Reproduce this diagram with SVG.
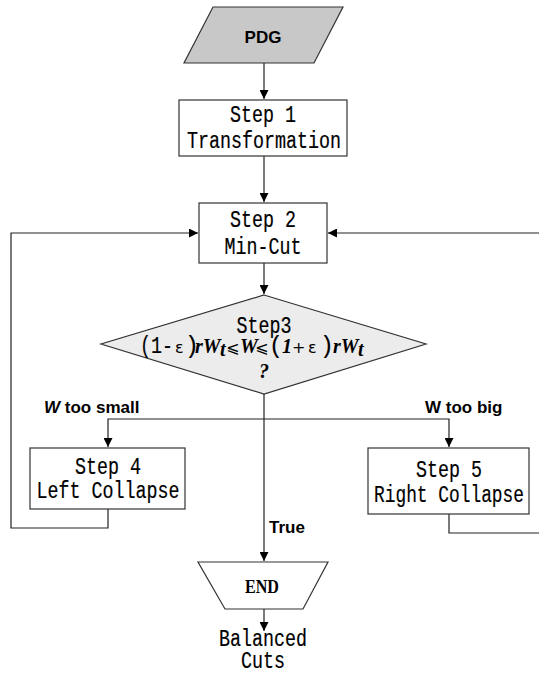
<svg xmlns="http://www.w3.org/2000/svg" width="539" height="677" viewBox="0 0 539 677">
  <style>
    .shape { stroke: #333; stroke-width: 1.2; }
    .box { fill: #fff; }
    .io { fill: #c8c8c8; }
    .dec { fill: #ececec; }
    .wire { fill: none; stroke: #222; stroke-width: 1.2; }
    .mono { font-family: "Liberation Mono", "DejaVu Sans Mono", monospace; font-size: 23px; fill: #000; stroke: #000; stroke-width: 0.2; }
    .lbl { font-family: "Liberation Sans", Arial, sans-serif; font-weight: bold; font-size: 17px; fill: #000; }
    .mi { font-family: "Liberation Serif", "Times New Roman", serif; font-style: italic; font-weight: bold; font-size: 20px; }
    .op { font-family: "DejaVu Sans", sans-serif; font-size: 16px; }
  </style>
  <defs>
    <marker id="arrow" viewBox="0 0 10 10" refX="10" refY="5" markerWidth="9" markerHeight="9" markerUnits="userSpaceOnUse" orient="auto">
      <path d="M0,0 L10,5 L0,10 z" fill="#000"/>
    </marker>
  </defs>

  <!-- connectors -->
  <g id="connectors" class="wire">
    <path d="M264,63 V99" marker-end="url(#arrow)"/>
    <path d="M264,156 V202" marker-end="url(#arrow)"/>
    <path d="M264,263 V294" marker-end="url(#arrow)"/>
    <path d="M264,394 V561" marker-end="url(#arrow)"/>
    <path d="M108,430 V419 H449 V430" />
    <path d="M108,430 V447" marker-end="url(#arrow)"/>
    <path d="M449,430 V447" marker-end="url(#arrow)"/>
    <path d="M108,509 V528 H11 V233 H198" marker-end="url(#arrow)"/>
    <path d="M449,514 V533 H545 V233 H328" marker-end="url(#arrow)"/>
    <path d="M264,609 V631" marker-end="url(#arrow)"/>
  </g>

  <!-- input data -->
  <g id="pdg">
    <polygon class="shape io" points="213,7 343,7 314,63 184,63"/>
    <text class="lbl" x="263" y="43" text-anchor="middle">PDG</text>
  </g>

  <g id="step1">
    <rect class="shape box" x="179" y="100" width="168" height="56"/>
    <text class="mono" x="263" y="122" text-anchor="middle" textLength="66" lengthAdjust="spacingAndGlyphs">Step 1</text>
    <text class="mono" x="264" y="148" text-anchor="middle" textLength="154" lengthAdjust="spacingAndGlyphs">Transformation</text>
  </g>

  <g id="step2">
    <rect class="shape box" x="199" y="203" width="128" height="60"/>
    <text class="mono" x="263" y="227" text-anchor="middle" textLength="66" lengthAdjust="spacingAndGlyphs">Step 2</text>
    <text class="mono" x="263" y="254" text-anchor="middle" textLength="77" lengthAdjust="spacingAndGlyphs">Min-Cut</text>
  </g>

  <g id="step3">
    <polygon class="shape dec" points="264,295 426,344 264,394 101,344"/>
    <text class="mono" x="264" y="333" text-anchor="middle" textLength="55" lengthAdjust="spacingAndGlyphs">Step3</text>
    <text y="353">
      <tspan class="mono" x="140" font-size="20" textLength="33" lengthAdjust="spacingAndGlyphs">(1-</tspan>
      <tspan class="op" x="175">ε</tspan>
      <tspan class="mono" x="185" font-size="20">)</tspan>
      <tspan class="mi" x="195">rW</tspan>
      <tspan class="mi" x="220" dy="3" font-size="13">t</tspan>
      <tspan class="op" x="226" dy="-3">⩽</tspan>
      <tspan class="mi" x="240">W</tspan>
      <tspan class="op" x="255">⩽</tspan>
      <tspan class="mono" x="269" font-size="20">(</tspan>
      <tspan class="mi" x="282" font-weight="normal">1</tspan>
      <tspan class="op" x="292">+</tspan>
      <tspan class="op" x="308">ε</tspan>
      <tspan class="mono" x="320" font-size="20">)</tspan>
      <tspan class="mi" x="333">rW</tspan>
      <tspan class="mi" x="358" dy="3" font-size="13">t</tspan>
    </text>
    <text class="mi" x="264" y="378" text-anchor="middle" font-weight="normal">?</text>
  </g>

  <g id="step4">
    <rect class="shape box" x="30" y="448" width="155" height="61"/>
    <text class="mono" x="108" y="474" text-anchor="middle" textLength="66" lengthAdjust="spacingAndGlyphs">Step 4</text>
    <text class="mono" x="108" y="498" text-anchor="middle" textLength="143" lengthAdjust="spacingAndGlyphs">Left Collapse</text>
  </g>

  <g id="step5">
    <rect class="shape box" x="368" y="448" width="161" height="66"/>
    <text class="mono" x="449" y="477" text-anchor="middle" textLength="66" lengthAdjust="spacingAndGlyphs">Step 5</text>
    <text class="mono" x="449" y="502" text-anchor="middle" textLength="150" lengthAdjust="spacingAndGlyphs">Right Collapse</text>
  </g>

  <g id="end">
    <polygon class="shape box" points="198,562 328,562 303,609 225,609"/>
    <text x="262" y="593" text-anchor="middle" font-family="Liberation Serif, serif" font-weight="bold" font-size="19" textLength="34" lengthAdjust="spacingAndGlyphs">END</text>
  </g>

  <g id="output">
    <text class="mono" x="263" y="646" text-anchor="middle" textLength="88" lengthAdjust="spacingAndGlyphs">Balanced</text>
    <text class="mono" x="263" y="668" text-anchor="middle" textLength="44" lengthAdjust="spacingAndGlyphs">Cuts</text>
  </g>

  <g id="labels">
    <text class="lbl" x="44" y="413"><tspan font-style="italic">W</tspan> too small</text>
    <text class="lbl" x="425" y="413">W too big</text>
    <text class="lbl" x="269" y="533">True</text>
  </g>
</svg>
